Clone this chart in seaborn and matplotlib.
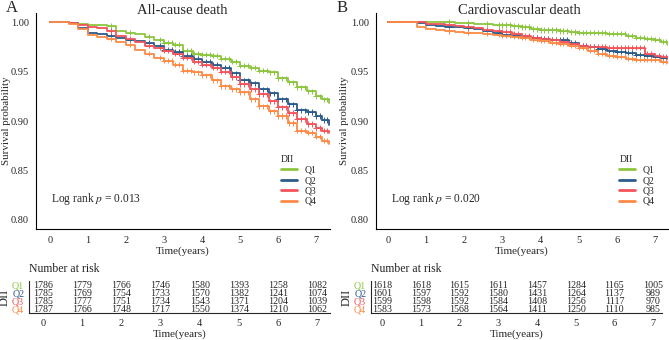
import numpy as np
import pandas as pd
import seaborn as sns
import matplotlib
matplotlib.use('Agg')
import matplotlib.pyplot as plt


# ---- data ----
groups = ['Q1', 'Q2', 'Q3', 'Q4']
colors = ['#8cc63f', '#2a5b8a', '#f2545b', '#fb8b47']

times = [0, 0.5, 0.75, 1.0, 1.25, 1.5, 1.75, 2.0, 2.25, 2.5, 2.75, 3.0,
         3.25, 3.5, 3.75, 4.0, 4.25, 4.5, 4.75, 5.0, 5.25, 5.5, 5.75, 6.0,
         6.25, 6.5, 6.75, 7.0, 7.15, 7.35]

# all-cause death survival
surv_a_q1 = [1.000, 0.999, 0.998, 0.997, 0.997, 0.996, 0.991, 0.989, 0.988, 0.985,
             0.982, 0.979, 0.977, 0.971, 0.968, 0.967, 0.966, 0.963, 0.960, 0.956,
             0.954, 0.951, 0.949, 0.943, 0.939, 0.934, 0.930, 0.925, 0.922, 0.918]
surv_a_q2 = [1.000, 0.999, 0.994, 0.989, 0.988, 0.986, 0.984, 0.982, 0.981, 0.979,
             0.976, 0.972, 0.970, 0.966, 0.963, 0.960, 0.957, 0.954, 0.948, 0.941,
             0.938, 0.932, 0.928, 0.922, 0.917, 0.911, 0.909, 0.905, 0.901, 0.896]
surv_a_q3 = [1.000, 0.999, 0.997, 0.995, 0.994, 0.991, 0.986, 0.983, 0.980, 0.976,
             0.974, 0.971, 0.968, 0.964, 0.960, 0.957, 0.954, 0.950, 0.944, 0.937,
             0.932, 0.927, 0.920, 0.914, 0.908, 0.902, 0.897, 0.893, 0.890, 0.888]
surv_a_q4 = [1.000, 0.998, 0.993, 0.987, 0.985, 0.983, 0.980, 0.977, 0.972, 0.968,
             0.964, 0.961, 0.957, 0.951, 0.949, 0.946, 0.941, 0.935, 0.932, 0.929,
             0.922, 0.915, 0.910, 0.905, 0.898, 0.890, 0.888, 0.884, 0.880, 0.877]

# cardiovascular death survival
surv_b_q1 = [1.000, 1.000, 1.000, 1.000, 1.000, 1.000, 0.999, 0.999, 0.998, 0.998,
             0.997, 0.997, 0.996, 0.995, 0.993, 0.992, 0.992, 0.991, 0.990, 0.989,
             0.989, 0.989, 0.988, 0.988, 0.986, 0.984, 0.983, 0.982, 0.980, 0.977]
surv_b_q2 = [1.000, 1.000, 0.999, 0.997, 0.996, 0.995, 0.995, 0.994, 0.993, 0.991,
             0.989, 0.987, 0.986, 0.985, 0.984, 0.983, 0.982, 0.982, 0.979, 0.976,
             0.975, 0.973, 0.971, 0.970, 0.969, 0.967, 0.966, 0.965, 0.964, 0.963]
surv_b_q3 = [1.000, 1.000, 1.000, 0.998, 0.998, 0.997, 0.996, 0.995, 0.994, 0.992,
             0.991, 0.990, 0.988, 0.986, 0.984, 0.983, 0.982, 0.980, 0.978, 0.976,
             0.975, 0.975, 0.974, 0.974, 0.974, 0.974, 0.968, 0.966, 0.965, 0.964]
surv_b_q4 = [1.000, 1.000, 0.995, 0.993, 0.992, 0.991, 0.990, 0.989, 0.989, 0.988,
             0.987, 0.986, 0.985, 0.984, 0.982, 0.981, 0.979, 0.978, 0.976, 0.974,
             0.971, 0.968, 0.966, 0.965, 0.963, 0.962, 0.962, 0.962, 0.960, 0.959]

# censoring times (shown as + on every curve)
censor_times = [1.6, 2.1, 2.6, 2.9, 3.0, 3.1, 3.2, 3.3, 3.4, 3.5, 3.6, 3.7, 3.8,
                3.9, 4.0, 4.1, 4.2, 4.3, 4.4, 4.5, 4.6, 4.7, 4.8, 4.9, 5.0, 5.1,
                5.2, 5.3, 5.4, 5.5, 5.6, 5.7, 5.8, 5.9, 6.0, 6.1, 6.2, 6.3, 6.4,
                6.5, 6.6, 6.7, 6.8, 6.9, 7.0, 7.1, 7.2, 7.3]

risk_times = [0, 1, 2, 3, 4, 5, 6, 7]
risk_a_q1 = [1786, 1779, 1766, 1746, 1580, 1393, 1258, 1082]
risk_a_q2 = [1785, 1769, 1754, 1733, 1570, 1382, 1241, 1074]
risk_a_q3 = [1785, 1777, 1751, 1734, 1543, 1371, 1204, 1039]
risk_a_q4 = [1787, 1766, 1748, 1717, 1550, 1374, 1210, 1062]
risk_b_q1 = [1618, 1618, 1615, 1611, 1457, 1284, 1165, 1005]
risk_b_q2 = [1601, 1597, 1592, 1580, 1431, 1264, 1137, 989]
risk_b_q3 = [1599, 1598, 1592, 1584, 1408, 1256, 1117, 970]
risk_b_q4 = [1583, 1573, 1568, 1564, 1411, 1250, 1110, 985]

W, H = 669, 340


def rect(x0, x1, y_top, y_bot):
    return [x0 / W, 1 - y_bot / H, (x1 - x0) / W, (y_bot - y_top) / H]


def make_frames(survs):
    curve = pd.DataFrame({
        'time': times * 4,
        'surv': sum(survs, []),
        'group': np.repeat(groups, len(times)),
    })
    rows = []
    for g, s in zip(groups, survs):
        for t in censor_times:
            idx = np.searchsorted(times, t, side='right') - 1
            rows.append((t, s[idx], g))
    censor = pd.DataFrame(rows, columns=['time', 'surv', 'group'])
    return curve, censor


def plot_curve(ax, survs, ptext, xlim, ylab_x):
    curve, censor = make_frames(survs)
    pal = dict(zip(groups, colors))
    sns.lineplot(data=curve, x='time', y='surv', hue='group', palette=pal,
                 drawstyle='steps-post', estimator=None, linewidth=1.3, ax=ax)
    sns.scatterplot(data=censor, x='time', y='surv', hue='group', palette=pal,
                    marker='+', s=14, linewidth=0.7, legend=False, ax=ax)
    ax.set_xlim(*xlim)
    ax.set_ylim(0.7909, 1.0091)
    ax.set_xticks(range(8))
    ax.set_yticks([0.80, 0.85, 0.90, 0.95, 1.00])
    ax.set_yticklabels(['0.80', '0.85', '0.90', '0.95', '1.00'])
    ax.tick_params(labelsize=7.5, length=3, width=0.7, pad=2)
    ax.set_xlabel('Time(years)', fontsize=8, labelpad=1)
    ax.set_ylabel('Survival probability', fontsize=7.8)
    ax.yaxis.set_label_coords(ylab_x, 0.5)
    for side in ('top', 'right'):
        ax.spines[side].set_visible(False)
    for side in ('left', 'bottom'):
        ax.spines[side].set_linewidth(0.8)
        ax.spines[side].set_color('black')
    ax.text(0.05, 0.14, ptext, transform=ax.transAxes, fontsize=8.3, va='center')
    sns.move_legend(ax, 'upper left', bbox_to_anchor=(0.82, 0.36), title='DII',
                    frameon=False, fontsize=7, title_fontsize=7,
                    handlelength=1.6, labelspacing=0.15, borderaxespad=0)
    leg = ax.get_legend()
    leg._legend_box.align = 'left'
    for ln in leg.get_lines():
        ln.set_linewidth(2)


def plot_table(ax, risks, xlim):
    for row, (g, c, r) in enumerate(zip(groups, colors, risks), start=1):
        for t, n in zip(risk_times, r):
            ax.text(t, row, str(n), ha='center', va='center', fontsize=7.2)
    ax.set_xlim(*xlim)
    ax.set_ylim(4.5, 0.5)
    ax.set_xticks(risk_times)
    ax.set_yticks([1, 2, 3, 4])
    ax.set_yticklabels(groups)
    for lab, c in zip(ax.get_yticklabels(), colors):
        lab.set_color(c)
    ax.tick_params(labelsize=7.2, length=2.5, width=0.7, pad=1)
    ax.tick_params(axis='x', labelsize=7.5, pad=2)
    ax.set_xlabel('Time(years)', fontsize=8, labelpad=1)
    ax.set_ylabel('DII', fontsize=9, labelpad=1)
    for side in ('top', 'right'):
        ax.spines[side].set_visible(False)
    ax.spines['bottom'].set_linewidth(0.8)
    ax.spines['left'].set_linewidth(0.8)
    ax.text(0.0, 1.18, 'Number at risk', transform=ax.transAxes,
            fontsize=8.5, va='bottom', ha='left')


sns.set_style('white')
plt.rcParams['font.family'] = ['Liberation Serif', 'DejaVu Serif']
plt.rcParams['mathtext.fontset'] = 'stix'

fig = plt.figure(figsize=(W / 100, H / 100), dpi=100)

ax_a = fig.add_axes(rect(36, 330, 13, 229))
plot_curve(ax_a, [surv_a_q1, surv_a_q2, surv_a_q3, surv_a_q4],
           'Log rank $p$ = 0.013', (-0.368, 7.368), -0.085)

ax_b = fig.add_axes(rect(376, 668, 13, 229))
plot_curve(ax_b, [surv_b_q1, surv_b_q2, surv_b_q3, surv_b_q4],
           'Log rank $p$ = 0.020', (-0.315, 7.34), -0.092)

tab_a = fig.add_axes(rect(29, 330, 281, 313))
plot_table(tab_a, [risk_a_q1, risk_a_q2, risk_a_q3, risk_a_q4], (-0.358, 7.33))

tab_b = fig.add_axes(rect(371, 662, 281, 313))
plot_table(tab_b, [risk_b_q1, risk_b_q2, risk_b_q3, risk_b_q4], (-0.284, 7.23))

# panel titles and letters
fig.text(182 / W, 1 - 10 / H, 'All-cause death', fontsize=10.5,
         ha='center', va='center')
fig.text(519 / W, 1 - 10 / H, 'Cardiovascular death', fontsize=10.5,
         ha='center', va='center')
fig.text(6 / W, 1 - 8 / H, 'A', fontsize=12, ha='left', va='center')
fig.text(337 / W, 1 - 8 / H, 'B', fontsize=12, ha='left', va='center')

fig.savefig('out.png', dpi=100)
